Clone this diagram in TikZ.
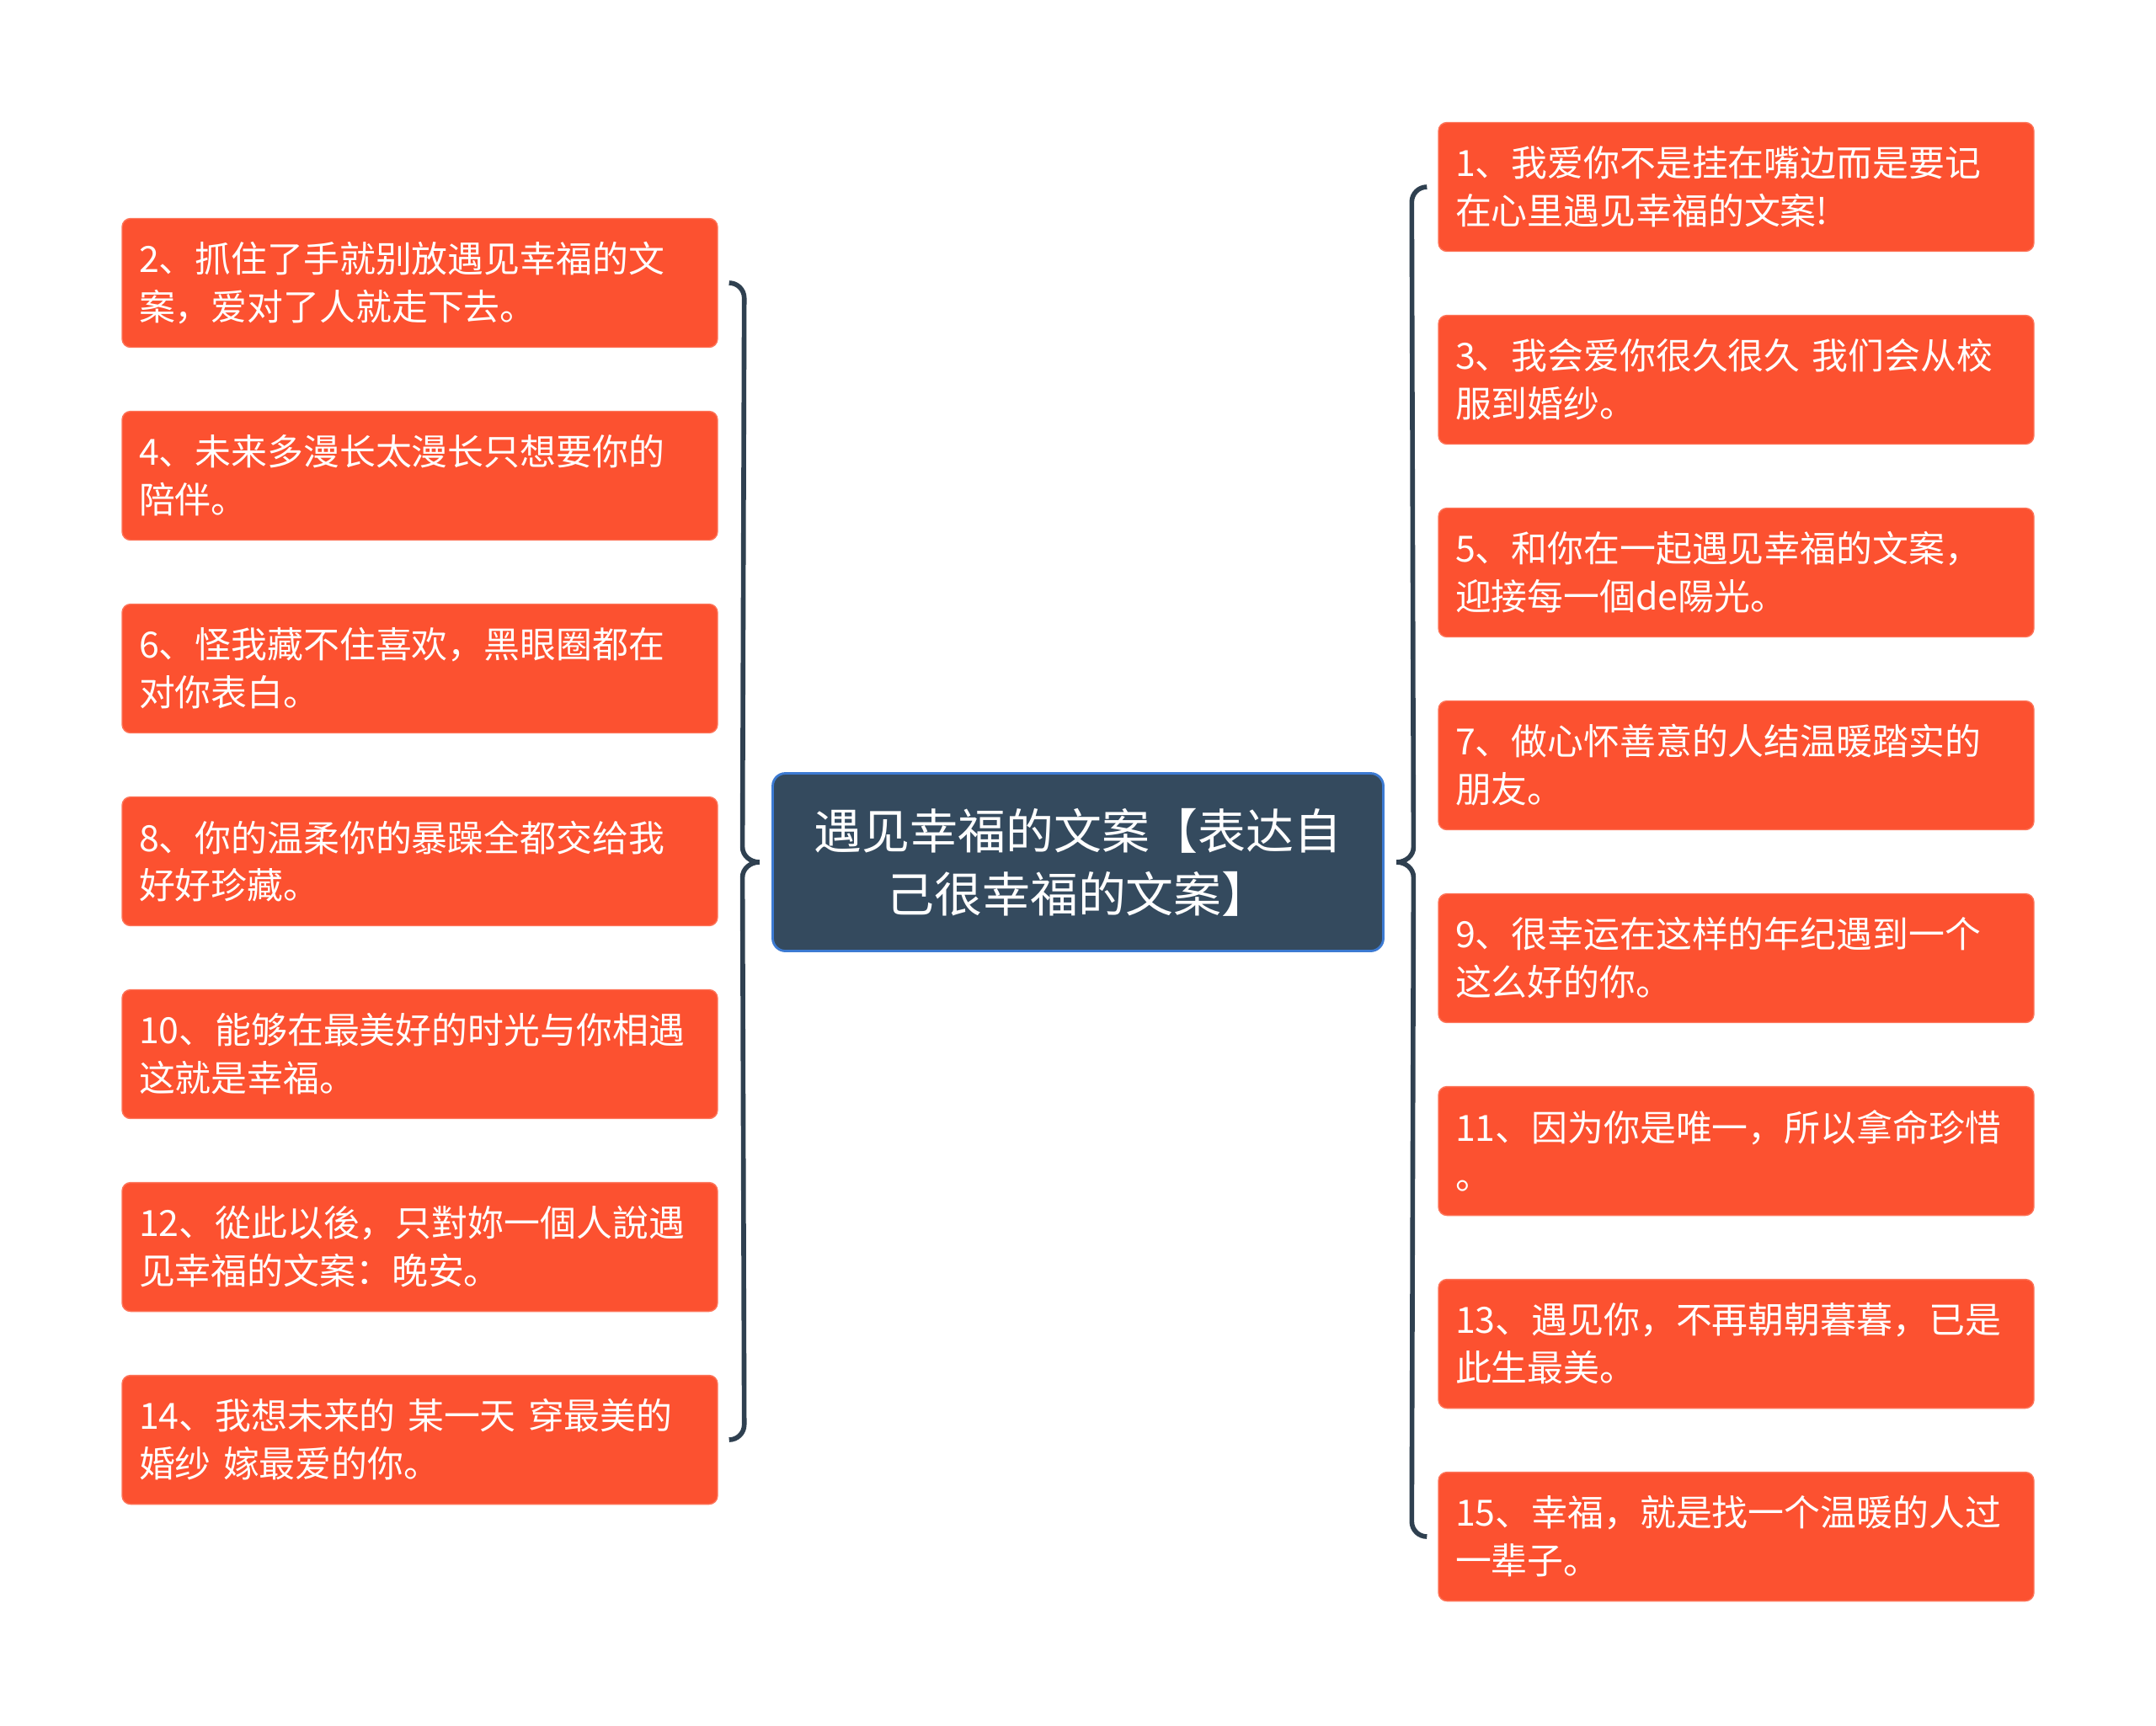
\documentclass[tikz,border=0pt]{standalone}
\usepackage{fontspec}
\setmainfont{Noto Sans CJK SC}
\usepackage{xcolor}
\usepackage{tikz}
\usetikzlibrary{positioning, calc}

\definecolor{itemfill}{HTML}{FC5130}
\definecolor{rootfill}{HTML}{344A5E}
\definecolor{rootdraw}{HTML}{3C7AD2}
\definecolor{bracecol}{HTML}{2F4050}

\begin{document}
\begin{tikzpicture}[
    node distance=0.746cm,
    item/.style={rectangle, draw=itemfill!80!white, fill=itemfill, text=white, text width=6.67cm, minimum height=1.53cm, inner xsep=0.2cm, inner ysep=0pt, align=left, rounded corners=0.1cm, font=\fontsize{12.2}{16.2}\selectfont},
    title/.style={rectangle, draw=rootdraw, line width=0.8pt, fill=rootfill, text=white, minimum width=7.25cm, minimum height=2.11cm, align=center, rounded corners=0.15cm, font=\fontsize{16.2}{21.3}\selectfont},
    brace/.style={draw=bracecol, line width=1.6pt}
]
\useasboundingbox (0,0) rectangle (25.6,-20.49);

\node[title] (root) at (12.8,-10.24) {遇见幸福的文案【表达自\\己很幸福的文案】};

\node[item] (R1) at (20.615,-2.22) {1、我爱你不是挂在嘴边而是要记\\在心里遇见幸福的文案!};
\node[item, below=of R1] (R3) {3、我会爱你很久很久 我们会从校\\服到婚纱。};
\node[item, below=of R3] (R5) {5、和你在一起遇见幸福的文案，\\迎接每一個de陽光。};
\node[item, below=of R5] (R7) {7、做心怀善意的人结温暖踏实的\\朋友。};
\node[item, below=of R7] (R9) {9、很幸运在这样的年纪遇到一个\\这么好的你。};
\node[item, below=of R9] (R11) {11、因为你是唯一，所以拿命珍惜\\。};
\node[item, below=of R11] (R13) {13、遇见你，不再朝朝暮暮，已是\\此生最美。};
\node[item, below=of R13] (R15) {15、幸福，就是找一个温暖的人过\\一辈子。};

\node[item] (L2) at (4.985,-3.36) {2、抓住了手就别放遇见幸福的文\\案，爱对了人就走下去。};
\node[item, below=of L2] (L4) {4、未来多漫长太漫长只想要你的\\陪伴。};
\node[item, below=of L4] (L6) {6、怪我藏不住喜欢，黑眼圈都在\\对你表白。};
\node[item, below=of L6] (L8) {8、你的温柔你的暴躁全都交给我\\好好珍藏。};
\node[item, below=of L8] (L10) {10、能够在最美好的时光与你相遇\\这就是幸福。};
\node[item, below=of L10] (L12) {12、從此以後，只對妳一個人說遇\\见幸福的文案：晚安。};
\node[item, below=of L12] (L14) {14、我想未来的 某一天 穿最美的\\婚纱 嫁最爱的你。};

\draw[brace] ([xshift=1.3mm]L2.east) to[out=0,in=90] ([xshift=3.1mm,yshift=-1.8mm]L2.east) -- ([xshift=-3.45mm,yshift=1.8mm]root.west) to[out=-90,in=180] ([xshift=-1.45mm]root.west) to[out=180,in=90] ([xshift=-3.45mm,yshift=-1.8mm]root.west) -- ([xshift=3.1mm,yshift=1.8mm]L14.east) to[out=-90,in=0] ([xshift=1.3mm]L14.east);

\draw[brace] ([xshift=-1.3mm]R1.west) to[out=180,in=90] ([xshift=-3.1mm,yshift=-1.8mm]R1.west) -- ([xshift=3.45mm,yshift=1.8mm]root.east) to[out=-90,in=0] ([xshift=1.45mm]root.east) to[out=0,in=90] ([xshift=3.45mm,yshift=-1.8mm]root.east) -- ([xshift=-3.1mm,yshift=1.8mm]R15.west) to[out=-90,in=180] ([xshift=-1.3mm]R15.west);

\end{tikzpicture}
\end{document}
